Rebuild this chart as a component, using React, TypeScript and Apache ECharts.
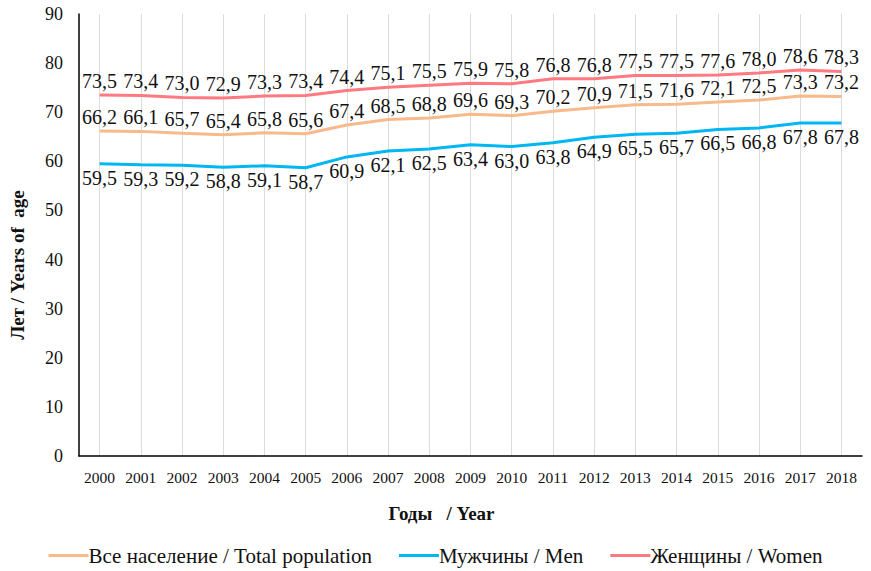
import React, { useEffect, useRef } from "react";
import * as echarts from "echarts";

const years = ["2000","2001","2002","2003","2004","2005","2006","2007","2008","2009","2010","2011","2012","2013","2014","2015","2016","2017","2018"];
const total = [66.2, 66.1, 65.7, 65.4, 65.8, 65.6, 67.4, 68.5, 68.8, 69.6, 69.3, 70.2, 70.9, 71.5, 71.6, 72.1, 72.5, 73.3, 73.2];
const men = [59.5, 59.3, 59.2, 58.8, 59.1, 58.7, 60.9, 62.1, 62.5, 63.4, 63.0, 63.8, 64.9, 65.5, 65.7, 66.5, 66.8, 67.8, 67.8];
const women = [73.5, 73.4, 73.0, 72.9, 73.3, 73.4, 74.4, 75.1, 75.5, 75.9, 75.8, 76.8, 76.8, 77.5, 77.5, 77.6, 78.0, 78.6, 78.3];

const names = ["Все население / Total population", "Мужчины / Men", "Женщины / Women"];
const FONT = "Liberation Serif";

export default function App() {
  const ref = useRef<HTMLDivElement>(null);
  useEffect(() => {
    const chart = echarts.init(ref.current!, null, { renderer: "svg" });
    const fmt = (p: any) => Number(p.value).toFixed(1).replace(".", ",");
    const lbl = (pos: string) => ({
      show: true,
      position: pos,
      distance: 4,
      formatter: fmt,
      color: "#111",
      fontFamily: FONT,
      fontSize: 20,
    });
    const base = {
      type: "line",
      showSymbol: true,
      symbol: "circle",
      symbolSize: 0.1,
    };
    chart.setOption({
      animation: false,
      textStyle: { fontFamily: FONT },
      grid: { left: 76, right: 9, top: 14, bottom: 115, containLabel: false },
      xAxis: {
        type: "category",
        data: years,
        boundaryGap: true,
        axisLine: { lineStyle: { color: "#000", width: 1.5 } },
        axisTick: { show: false, interval: 0 },
        axisLabel: { color: "#111", fontFamily: FONT, fontSize: 15.5, margin: 13, interval: 0 },
        splitLine: { show: true, interval: 0, alignWithLabel: true, lineStyle: { color: "#dcdcdc", width: 1 } },
        name: "Годы   / Year",
        nameLocation: "middle",
        nameGap: 48,
        nameTextStyle: { color: "#111", fontFamily: FONT, fontSize: 19, fontWeight: "bold", padding: [0, 58, 0, 0] },
      },
      yAxis: {
        type: "value",
        min: 0,
        max: 90,
        interval: 10,
        axisLine: { show: true, lineStyle: { color: "#000", width: 1.5 } },
        axisTick: { show: false },
        splitLine: { show: false },
        axisLabel: { color: "#111", fontFamily: FONT, fontSize: 18, margin: 16 },
        name: "Лет / Years of  age",
        nameLocation: "middle",
        nameGap: 52,
        nameTextStyle: { color: "#111", fontFamily: FONT, fontSize: 19, fontWeight: "bold", padding: [0, 60, 0, 0] },
      },
      legend: {
        bottom: 0,
        left: "center",
        itemWidth: 40,
        itemHeight: 3,
        itemGap: 27,
        icon: "rect",
        textStyle: { color: "#111", fontFamily: FONT, fontSize: 21, padding: [0, 0, 0, -5] },
        data: names,
      },
      series: [
        {
          ...base, name: names[0], data: total,
          lineStyle: { color: "#F8B98B", width: 3 }, itemStyle: { color: "#F8B98B" },
          label: lbl("top"),
        },
        {
          ...base, name: names[1], data: men,
          lineStyle: { color: "#00B7F1", width: 3 }, itemStyle: { color: "#00B7F1" },
          label: lbl("bottom"),
        },
        {
          ...base, name: names[2], data: women,
          lineStyle: { color: "#FF7A80", width: 3 }, itemStyle: { color: "#FF7A80" },
          label: lbl("top"),
        },
      ],
    });
    return () => chart.dispose();
  }, []);
  return <div ref={ref} style={{ width: 871, height: 571, position: "absolute", left: 0, top: 0 }} />;
}
